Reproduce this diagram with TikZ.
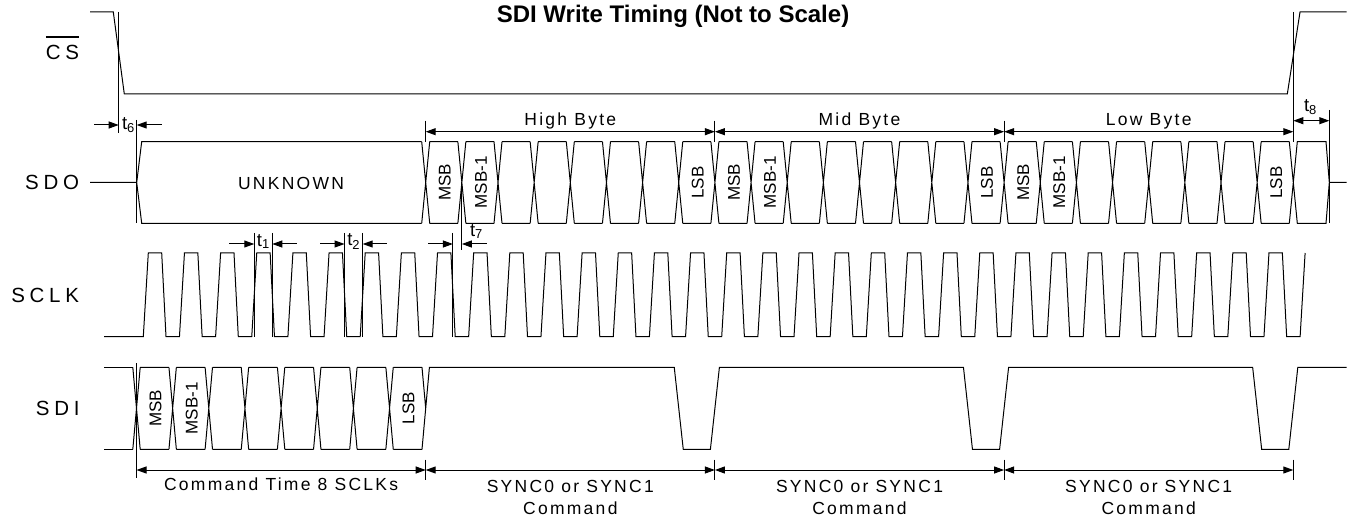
\documentclass[tikz,border=0pt]{standalone}
\usepackage{fontspec}
\setmainfont{Liberation Sans}
\newfontfamily\sigfont[LetterSpace=23]{Liberation Sans}
\newfontfamily\dimfont[LetterSpace=13]{Liberation Sans}
\usetikzlibrary{
	arrows.meta,
}
\newcommand{\barred}[1]{\setbox0=\hbox{#1}\rlap{\rule[21.5pt]{\wd0}{1.3pt}}\box0}
\tikzset{
	wave/.style={line width=1pt},
	tip/.style={-{Triangle[length=10pt,width=7pt]}},
	tips/.style={{Triangle[length=10pt,width=7pt]}-{Triangle[length=10pt,width=7pt]}},
}

\begin{document}
\begin{tikzpicture}[x=1pt,y=-1pt,line width=1pt,
	every node/.style={inner sep=0pt},
	sig name/.style={font=\fontsize{20.5}{24}\sigfont,anchor=base east},
	dim text/.style={font=\fontsize{17.5}{21.5}\dimfont},
	bit text/.style={font=\fontsize{17}{20}\selectfont,rotate=90},
	t text/.style={font=\fontsize{18.5}{20}\selectfont},
]
\def\xo{136.5}
\def\per{36.15}

\useasboundingbox (0,0) rectangle (1348,521);

\node[font=\fontsize{24}{28}\selectfont\bfseries,anchor=base](title) at(673,22.7) {SDI Write Timing (Not to Scale)};

\node[sig name](cs) at(79.5,59.3) {\barred{CS}};
\node[sig name](sdo) at(79.5,189.5) {SDO};
\node[sig name](sclk) at(79.5,302.3) {SCLK};
\node[sig name](sdi) at(80,415.5) {SDI};

% bit boundaries
\foreach \n in {0,...,32}{
	\coordinate(T\n) at({\xo+\n*\per},0);
}

% CS
\draw[wave] (90,12) -- (113.3,12) -- (124.3,94) -- (1287.3,94) -- (1300,12) -- (1346.7,12);

% SDO
\draw[wave] (90,182.5) -- (136.7,182.5) -- (141.7,141.7) -- ({\xo+8*\per-4},141.7)
	(136.7,182.5) -- (141.7,223.3) -- ({\xo+8*\per-4},223.3);
\node[dim text,anchor=base](unknown) at(291,190) {UNKNOWN};
\foreach \n in {8,...,31}{
	\pgfmathsetmacro\xa{\xo+\n*\per}
	\draw[wave] ({\xa-4},141.7) -- ({\xa+4},223.3) ({\xa-4},223.3) -- ({\xa+4},141.7)
		({\xa+4},141.7) -- ({\xa+\per-4},141.7) ({\xa+4},223.3) -- ({\xa+\per-4},223.3);
}
\pgfmathsetmacro\xa{\xo+32*\per}
\draw[wave] ({\xa-4},141.7) -- ({\xa+4},223.3) -- (1326,223.3) -- (1329.3,182.5) -- (1346.7,182.5)
	({\xa-4},223.3) -- ({\xa+4},141.7) -- (1326,141.7) -- (1329.3,182.5);
\foreach \b in {0,1,2}{
	\pgfmathsetmacro\xm{\xo+(8*\b+8.5)*\per+1}
	\node[bit text](msb\b) at(\xm,182.5) {MSB};
	\node[bit text](msbm\b) at({\xm+\per},182.5) {MSB-1};
	\node[bit text](lsb\b) at({\xm+7*\per},182.5) {LSB};
}

% SCLK
\draw[wave] (104,336.7)
	foreach \k in {0,...,31}{
		-- ({\xo+6.8+\k*\per},336.7) -- ({\xo+11.8+\k*\per},253)
		-- ({\xo+25.2+\k*\per},253) -- ({\xo+29.5+\k*\per},336.7)
	}
	-- ({\xo+6.8+32*\per},336.7) -- ({\xo+11.8+32*\per},253);

% SDI
\draw[wave] (104,367.3) -- ({\xo-3.7},367.3) (104,449.3) -- ({\xo-3.7},449.3);
\foreach \n in {0,...,7}{
	\pgfmathsetmacro\xa{\xo+\n*\per}
	\draw[wave] ({\xa-3.7},367.3) -- ({\xa+3.7},449.3) ({\xa-3.7},449.3) -- ({\xa+3.7},367.3)
		({\xa+3.7},367.3) -- ({\xa+\per-3.7},367.3) ({\xa+3.7},449.3) -- ({\xa+\per-3.7},449.3);
}
\pgfmathsetmacro\xa{\xo+8*\per}
\draw[wave] ({\xa-3.7},367.3) -- (\xa,408.3)
	({\xa-3.7},449.3) -- ({\xa+3.7},367.3)
	foreach \b in {1,2,3}{
		-- ({\xo+(8*\b+7)*\per-4.5},367.3) -- ({\xo+(8*\b+7)*\per+4.5},449.3)
		-- ({\xo+(8*\b+8)*\per-4.5},449.3) -- ({\xo+(8*\b+8)*\per+4.5},367.3)
	}
	-- (1346.7,367.3);
\node[bit text](cmsb) at({\xo+0.5*\per+1},408.3) {MSB};
\node[bit text](cmsbm) at({\xo+1.5*\per+1},408.3) {MSB-1};
\node[bit text](clsb) at({\xo+7.5*\per+1},408.3) {LSB};

% t6
\draw (118.7,12) -- (118.7,133) coordinate(t6a);
\draw (136.7,120) coordinate(t6b) -- (136.7,223.3);
\draw[tip] (94,125) -- (t6a |- 0,125);
\draw[tip] (161.7,125) -- (t6b |- 0,125);
\node[t text](t6) at(128.5,125.5) {t\textsubscript{6}};

% t1, t2, t7
\foreach \x [count=\i] in {254.25,272.3,344.6,362.7,452.9}{
	\draw (\x,233) coordinate(m\i) -- (\x,336.7);
}
\draw (T9 |- 0,182.5) -- (T9 |- 0,250);
\draw[tip] (229.3,244) -- (m1 |- 0,244);
\draw[tip] (296.7,244) -- (m2 |- 0,244);
\node[t text](t1) at(263.3,241.5) {t\textsubscript{1}};
\draw[tip] (320,244) -- (m3 |- 0,244);
\draw[tip] (386.7,244) -- (m4 |- 0,244);
\node[t text](t2) at(353.7,241.5) {t\textsubscript{2}};
\draw[tip] (428,244) -- (m5 |- 0,244);
\draw[tip] (486.7,244) -- (T9 |- 0,244);
\node[t text](t7) at(476.5,231.5) {t\textsubscript{7}};

% bytes
\foreach \n in {8,16,24}{
	\draw (T\n |- 0,120.7) -- (T\n |- 0,141.7);
}
\draw (T32 |- 0,12) -- (T32 |- 0,141.7);
\foreach \a/\b in {8/16,16/24,24/32}{
	\draw[tips] (T\a |- 0,131.7) -- (T\b |- 0,131.7);
}
\node[dim text,anchor=base](hibyte) at(T12 |- 0,126) {High Byte};
\node[dim text,anchor=base](midbyte) at(T20 |- 0,126) {Mid Byte};
\node[dim text,anchor=base](lobyte) at(T28 |- 0,126) {Low Byte};

% t8
\draw (1329.3,110) coordinate(t8b) -- (1329.3,223.3);
\draw[tips] (T32 |- 0,120.7) -- (t8b |- 0,120.7);
\node[t text](t8) at(1310.5,106.7) {t\textsubscript{8}};

% commands
\draw (T0 |- 0,363.3) -- (T0 |- 0,478.3);
\foreach \n in {8,16,24,32}{
	\draw (T\n |- 0,459.5) -- (T\n |- 0,480);
}
\foreach \a/\b in {0/8,8/16,16/24,24/32}{
	\draw[tips] (T\a |- 0,470) -- (T\b |- 0,470);
}
\node[dim text,anchor=north](cmd) at(T4 |- 0,477) {Command Time 8 SCLKs};
\foreach \n [count=\i] in {12,20,28}{
	\node[dim text,anchor=north,align=center](sync\i) at(T\n |- 0,480) {SYNC0 or SYNC1\\Command};
}

\end{tikzpicture}
\end{document}
